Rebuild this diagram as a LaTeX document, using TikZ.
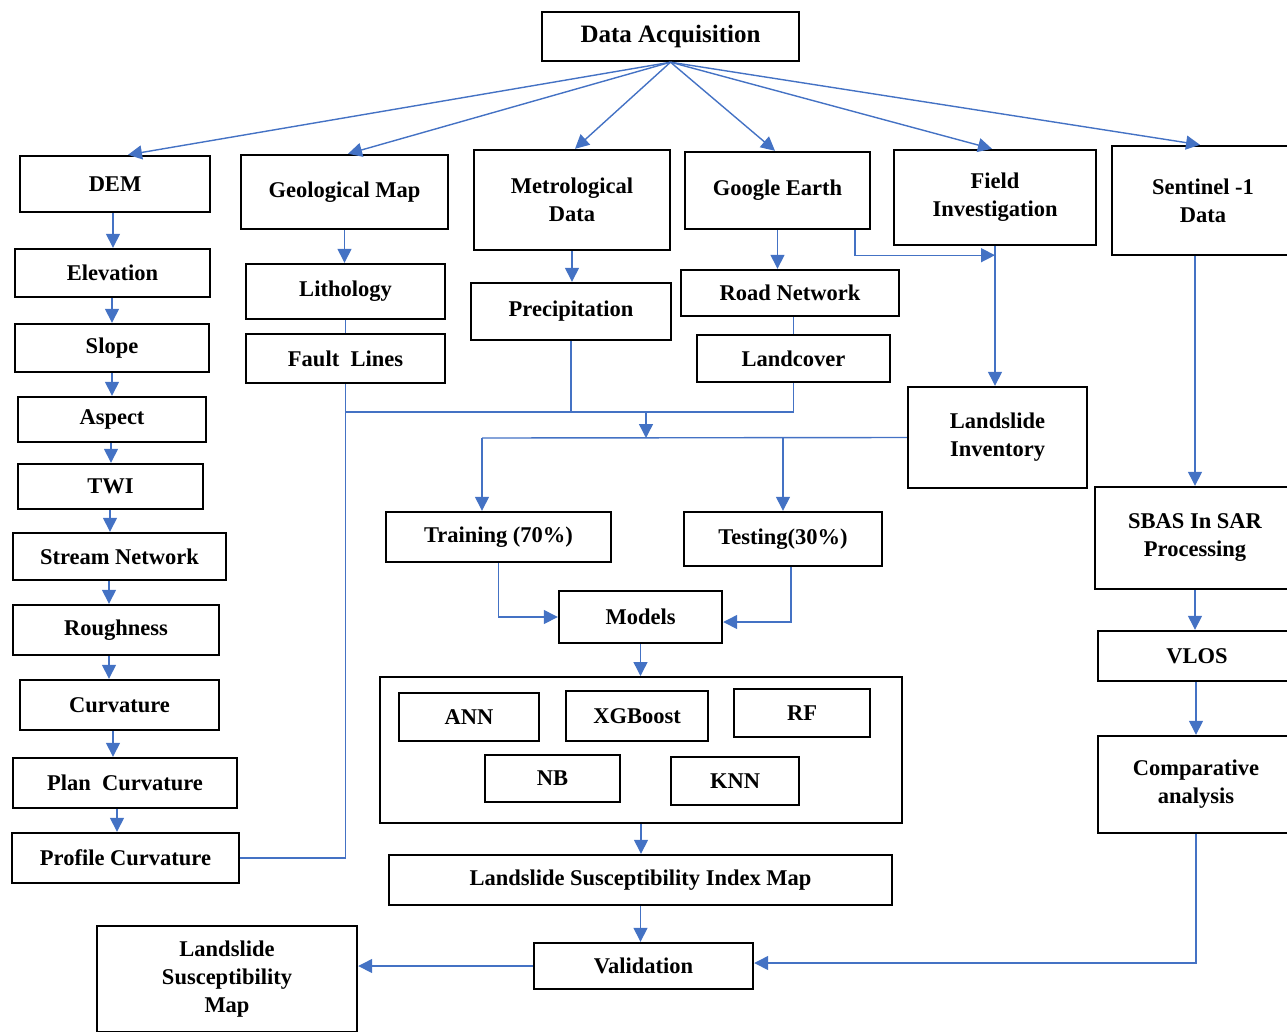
\documentclass[tikz,border=0pt]{standalone}
\usepackage{fontspec}
\setmainfont{Liberation Serif}
\usetikzlibrary{arrows.meta, positioning, calc}
\definecolor{LinkBlue}{RGB}{68,114,196}

\begin{document}
\begin{tikzpicture}[x=1pt, y=-1pt,
    blk/.style={draw=black, line width=2.4pt, align=center, inner sep=0pt,
                font=\fontsize{22.5}{28}\selectfont\bfseries},
    flow/.style={LinkBlue, line width=1.4pt, -{Triangle[length=14pt, width=14pt]}},
    link/.style={LinkBlue, line width=1.4pt}]

    \useasboundingbox (0,0) rectangle (1287,1031);

    % Top
    \node[blk, minimum width=257pt, minimum height=49pt,
          font=\fontsize{25}{30}\selectfont\bfseries] (DA) at (670.5,36.5) {Data Acquisition};

    % Sources
    \node[blk, minimum width=190pt, minimum height=56pt] (DEM) at (115,184) {DEM};
    \node[blk, minimum width=207pt, minimum height=74pt] (GEO) at (344.5,192) {Geological Map};
    \node[blk, minimum width=196pt, minimum height=100pt] (MET) at (572,200) {Metrological\\Data};
    \node[blk, minimum width=185pt, minimum height=77pt] (GE) at (777.5,190.5) {Google Earth};
    \node[blk, minimum width=202pt, minimum height=95pt] (FI) at (995,197.5) {Field\\Investigation};
    \node[blk, minimum width=182pt, minimum height=109pt] (S1) at (1203,200.5) {Sentinel -1\\Data};

    % DEM derivatives
    \node[blk, minimum width=195pt, minimum height=48pt] (ELEV) at (112.5,273) {Elevation};
    \node[blk, minimum width=194pt, minimum height=48pt] (SLOPE) at (112,348) {Slope};
    \node[blk, minimum width=188pt, minimum height=45pt] (ASP) at (112,419.5) {Aspect};
    \node[blk, minimum width=185pt, minimum height=45pt] (TWI) at (110.5,486.5) {TWI};
    \node[blk, minimum width=213pt, minimum height=47pt] (STR) at (119.5,556.5) {Stream Network};
    \node[blk, minimum width=206pt, minimum height=50pt] (ROUGH) at (116,630) {Roughness};
    \node[blk, minimum width=199pt, minimum height=50pt] (CURV) at (119.5,705) {Curvature};
    \node[blk, minimum width=224pt, minimum height=50pt] (PLAN) at (125,783) {Plan\ \ Curvature};
    \node[blk, minimum width=227pt, minimum height=50pt] (PROF) at (125.5,858) {Profile Curvature};

    % Other factors
    \node[blk, minimum width=199pt, minimum height=55pt] (LITH) at (345.5,291.5) {Lithology};
    \node[blk, minimum width=199pt, minimum height=49pt] (FAULT) at (345.5,358.5) {Fault\ \ Lines};
    \node[blk, minimum width=200pt, minimum height=57pt] (PREC) at (571,311.5) {Precipitation};
    \node[blk, minimum width=218pt, minimum height=46pt] (ROAD) at (790,293) {Road Network};
    \node[blk, minimum width=193pt, minimum height=47pt] (LC) at (793.5,358.5) {Landcover};
    \node[blk, minimum width=179pt, minimum height=101pt] (LI) at (997.5,437.5) {Landslide\\Inventory};

    % Modelling
    \node[blk, minimum width=225pt, minimum height=50pt] (TRAIN) at (498.5,537) {Training (70\%)};
    \node[blk, minimum width=198pt, minimum height=54pt] (TEST) at (783,539) {Testing(30\%)};
    \node[blk, minimum width=163pt, minimum height=52pt] (MOD) at (640.5,617) {Models};
    \node[blk, line width=2pt, minimum width=522pt, minimum height=146pt] (ML) at (641,750) {};
    \node[blk, minimum width=140pt, minimum height=48pt] (ANN) at (469,717) {ANN};
    \node[blk, minimum width=142pt, minimum height=50pt] (XGB) at (637,716) {XGBoost};
    \node[blk, minimum width=136pt, minimum height=48pt] (RF) at (802,713) {RF};
    \node[blk, minimum width=135pt, minimum height=47pt] (NB) at (552.5,778.5) {NB};
    \node[blk, minimum width=128pt, minimum height=48pt] (KNN) at (735,781) {KNN};
    \node[blk, minimum width=503pt, minimum height=50pt] (LSI) at (640.5,880) {Landslide Susceptibility Index Map};
    \node[blk, minimum width=219pt, minimum height=46pt] (VAL) at (643.5,966) {Validation};
    \node[blk, minimum width=260pt, minimum height=106pt] (LSM) at (227,979) {Landslide\\Susceptibility\\Map};

    % InSAR branch
    \node[blk, minimum width=200pt, minimum height=102pt] (SBAS) at (1195,538) {SBAS In SAR\\Processing};
    \node[blk, minimum width=198pt, minimum height=50pt] (VLOS) at (1197,656) {VLOS};
    \node[blk, minimum width=196pt, minimum height=97pt] (CMP) at (1196,784.5) {Comparative\\analysis};

    % Arrows from Data Acquisition
    \foreach \t/\dx in {DEM/13, GEO/3.5, MET/3, GE/-2.5, FI/-3, S1/-3}
        \draw[flow] (DA.south) -- ([xshift=\dx pt]\t.north);

    % DEM chain
    \foreach \a/\b/\x in {DEM/ELEV/113, ELEV/SLOPE/112, SLOPE/ASP/112, ASP/TWI/111,
                          TWI/STR/110, STR/ROUGH/109, ROUGH/CURV/109, CURV/PLAN/113, PLAN/PROF/117}
        \draw[flow] (\x,0 |- \a.south) -- (\x,0 |- \b.north);

    % Factors to split
    \draw[flow] (GEO.south) -- (GEO.south |- LITH.north);
    \draw[link] (LITH.south) -- (LITH.south |- FAULT.north);
    \draw[link] (FAULT.south) |- (PROF.east);
    \coordinate (J1) at (FAULT.south |- 0,412);
    \draw[link] (J1) -| (LC.south);
    \draw[link] (PREC.south) -- (PREC.south |- J1);
    \draw[flow] (MET.south) -- (MET.south |- PREC.north);
    \draw[flow] (GE.south) -- (GE.south |- ROAD.north);
    \draw[link] (LC.north) -- (LC.north |- ROAD.south);
    \coordinate (FIin) at ($(FI.south)+(0,9)$);
    \draw[flow] ([xshift=77.5pt]GE.south) |- (FIin);
    \draw[flow] (FI.south) -- (FI.south |- LI.north);

    \coordinate (J2) at (646,412);
    \coordinate (SPL) at (482,438);
    \draw[flow] (J2) -- (J2 |- SPL);
    \draw[link] (LI.west) -- (SPL);
    \draw[flow] (SPL) -- (SPL |- TRAIN.north);
    \draw[flow] (TEST.north |- SPL) -- (TEST.north);

    % Models and results
    \draw[flow] (TRAIN.south) |- (MOD.west);
    \draw[flow] ([xshift=8pt]TEST.south) |- ([yshift=-5pt]MOD.east);
    \draw[flow] (MOD.south) -- (MOD.south |- ML.north);
    \draw[flow] (ML.south) -- (ML.south |- LSI.north);
    \draw[flow] (LSI.south) -- (LSI.south |- VAL.north);
    \draw[flow] (VAL.west) -- (VAL.west -| LSM.east);

    % InSAR chain
    \draw[flow] (SBAS.north |- S1.south) -- (SBAS.north);
    \draw[flow] (SBAS.south) -- (SBAS.south |- VLOS.north);
    \draw[flow] (CMP.north |- VLOS.south) -- (CMP.north);
    \draw[flow] (CMP.south) |- ([yshift=3pt]VAL.east);
\end{tikzpicture}
\end{document}
